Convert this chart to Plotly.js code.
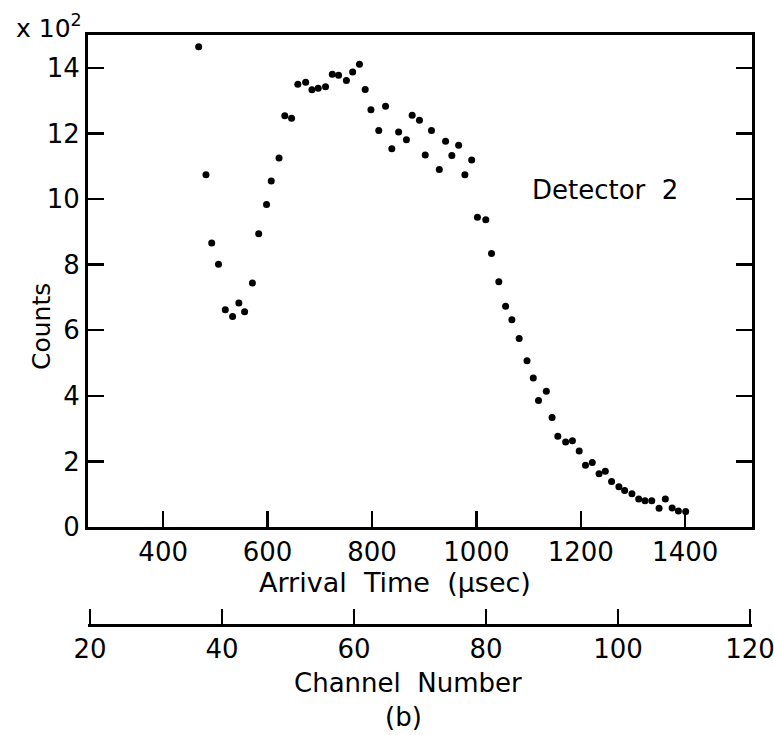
<!DOCTYPE html>
<html>
<head>
<meta charset="utf-8">
<script src="https://cdn.plot.ly/plotly-3.0.1.min.js"></script>
<style>html,body{margin:0;padding:0;background:#fff;}#chart{width:774px;height:735px;}</style>
</head>
<body>
<div id="chart"></div>
<script>
// Arrival time (µsec) of each channel's point
const arrivalTime = [468, 482, 493, 506, 519, 533, 545, 556, 571, 583, 598, 607, 622, 633, 646, 658,
  673, 685, 697, 711, 724, 736, 751, 763, 776, 787, 798, 813, 826, 838, 851, 866, 877, 891, 902, 914,
  929, 941, 953, 966, 978, 991, 1002, 1018, 1029, 1043, 1056, 1068, 1082, 1097, 1109, 1119, 1134, 1145,
  1156, 1171, 1184, 1197, 1209, 1222, 1235, 1247, 1259, 1273, 1284, 1298, 1311, 1323, 1336, 1350,
  1362, 1375, 1387, 1401];
// Counts in units of 10^2
const counts = [14.64, 10.74, 8.66, 8.01, 6.62, 6.42, 6.83, 6.56, 7.44, 8.94, 9.83, 10.55, 11.25, 12.54,
  12.46, 13.50, 13.56, 13.33, 13.38, 13.42, 13.80, 13.77, 13.61, 13.87, 14.11, 13.34, 12.72, 12.09,
  12.83, 11.53, 12.04, 11.81, 12.55, 12.40, 11.34, 12.09, 10.90, 11.76, 11.33, 11.64, 10.74, 11.19,
  9.44, 9.37, 8.34, 7.48, 6.73, 6.32, 5.75, 5.07, 4.54, 3.86, 4.14, 3.34, 2.77, 2.59, 2.63, 2.32,
  1.88, 1.97, 1.62, 1.70, 1.39, 1.23, 1.11, 1.01, 0.85, 0.80, 0.80, 0.57, 0.85, 0.58, 0.49, 0.47];
const timeTicks = [400, 600, 800, 1000, 1200, 1400];
const countTicks = [0, 2, 4, 6, 8, 10, 12, 14];
const channelTicks = [20, 40, 60, 80, 100, 120];

const W = 774, H = 735, L = 88, R = 752, T = 35, B = 625, AX = 527;
const px = x => (x - L) / (R - L);
const py = y => (B - y) / (B - T);
const FONT = 'DejaVu Sans';

const data = [
  {x: arrivalTime, y: counts, type: 'scatter', mode: 'markers',
   marker: {color: '#000', size: 7}, xaxis: 'x', yaxis: 'y', hoverinfo: 'x+y'},
  {x: [channelTicks[0], channelTicks[channelTicks.length - 1]], y: [-10, -10], type: 'scatter',
   mode: 'markers', marker: {opacity: 0}, xaxis: 'x2', yaxis: 'y', hoverinfo: 'skip', showlegend: false}
];

const axisCommon = {showgrid: false, zeroline: false, showline: true, linecolor: '#000', linewidth: 3,
  ticks: 'inside', ticklen: 16, tickwidth: 2.5, tickcolor: '#000', ticklabeloverflow: 'allow',
  tickfont: {family: FONT, size: 26, color: '#000'}};

const layout = {
  width: W, height: H,
  margin: {l: L, r: W - R, t: T, b: H - B, pad: 0},
  paper_bgcolor: '#fff', plot_bgcolor: '#fff', showlegend: false,
  xaxis: Object.assign({}, axisCommon, {range: [256, 1528], tickvals: timeTicks, mirror: true,
    anchor: 'y', domain: [0, 1]}),
  yaxis: Object.assign({}, axisCommon, {range: [0, 15], tickvals: countTicks, mirror: 'ticks',
    domain: [py(AX), 1]}),
  xaxis2: Object.assign({}, axisCommon, {range: [19.7, 120.3], tickvals: channelTicks,
    overlaying: 'x', anchor: 'free', position: 0, side: 'bottom', ticklen: 15}),
  annotations: [
    {text: 'Arrival\u00a0 Time\u00a0 (\u03bcsec)', x: px(395), y: py(582), xref: 'paper', yref: 'paper',
     showarrow: false, xanchor: 'center', yanchor: 'middle', font: {family: FONT, size: 27, color: '#000'}},
    {text: 'Channel\u00a0 Number', x: px(408), y: py(683), xref: 'paper', yref: 'paper',
     showarrow: false, xanchor: 'center', yanchor: 'middle', font: {family: FONT, size: 26, color: '#000'}},
    {text: '(b)', x: px(403), y: py(717), xref: 'paper', yref: 'paper',
     showarrow: false, xanchor: 'center', yanchor: 'middle', font: {family: FONT, size: 26, color: '#000'}},
    {text: 'Counts', x: px(41), y: py(326), xref: 'paper', yref: 'paper', textangle: -90,
     showarrow: false, xanchor: 'center', yanchor: 'middle', font: {family: FONT, size: 25, color: '#000'}},
    {text: 'x\u00a010<sup>2</sup>', x: px(14), y: py(27), xref: 'paper', yref: 'paper',
     showarrow: false, xanchor: 'left', yanchor: 'middle', font: {family: FONT, size: 25, color: '#000'}},
    {text: 'Detector\u00a0\u00a02', x: px(605), y: py(190), xref: 'paper', yref: 'paper',
     showarrow: false, xanchor: 'center', yanchor: 'middle', font: {family: FONT, size: 26, color: '#000'}}
  ]
};

Plotly.newPlot('chart', data, layout, {displayModeBar: false, staticPlot: true});
</script>
</body>
</html>
